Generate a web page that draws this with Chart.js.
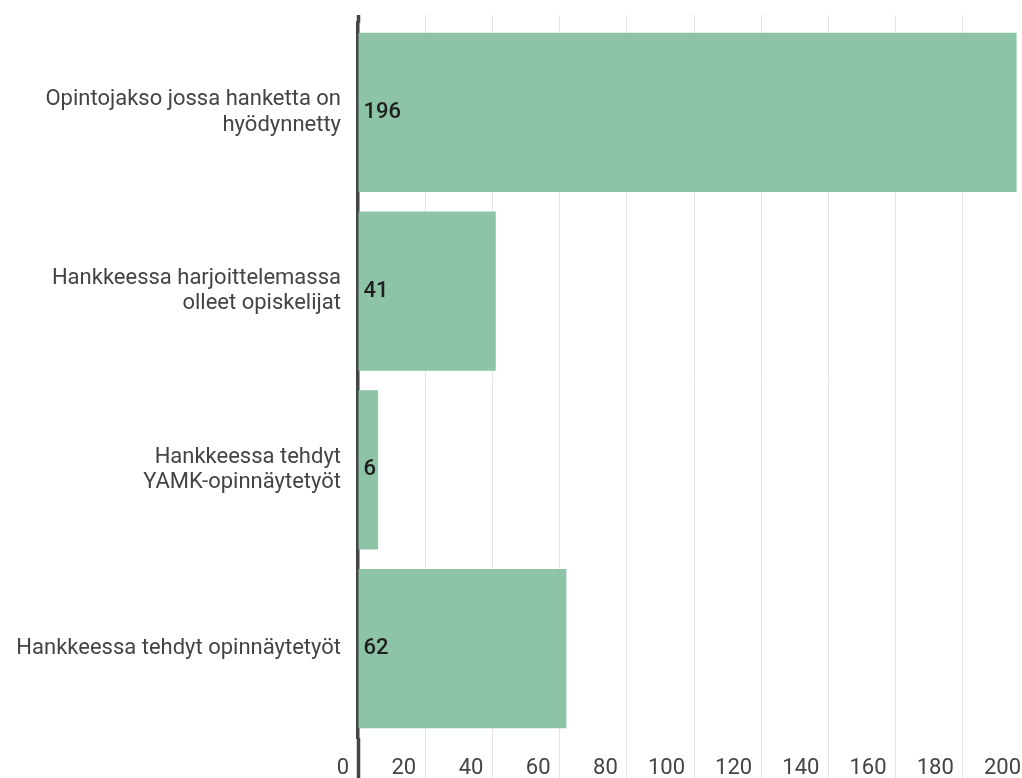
<!DOCTYPE html>
<html>
<head>
<meta charset="utf-8">
<script src="https://cdn.jsdelivr.net/npm/chart.js@4"></script>
<style>
  html, body { margin: 0; padding: 0; overflow: hidden; background: #fff; }
  #wrap { width: 1034px; height: 778px; position: relative; }
</style>
</head>
<body>
<div id="wrap"><canvas id="myChart"></canvas></div>
<script>
const categories = [
    ['Opintojakso jossa hanketta on', 'hyödynnetty'],
    ['Hankkeessa harjoittelemassa', 'olleet opiskelijat'],
    ['Hankkeessa tehdyt', 'YAMK-opinnäytetyöt'],
    'Hankkeessa tehdyt opinnäytetyöt'
];
const values = [196, 41, 6, 62];
const xMin = 0;
const xMax = 200;
const xStep = 20;

const barColor = '#8dc3a6';
const gridColor = '#e4e4e4';
const axisColor = '#444444';

// value text at the start of each bar
const valueLabels = {
    id: 'valueLabels',
    afterDatasetsDraw(chart) {
        const ctx = chart.ctx;
        const meta = chart.getDatasetMeta(0);
        ctx.save();
        ctx.font = '500 22px Roboto';
        ctx.fillStyle = '#1e1e1e';
        ctx.textAlign = 'left';
        ctx.textBaseline = 'middle';
        meta.data.forEach((bar, i) => {
            ctx.fillText(String(values[i]), bar.base + 5, bar.y);
        });
        ctx.restore();
    }
};

const tickColor = (c) => (c.tick && c.tick.value === 0) ? axisColor : gridColor;
const tickWidth = (c) => (c.tick && c.tick.value === 0) ? 3.5 : 1;

const ctx = document.getElementById('myChart').getContext('2d');
const myChart = new Chart(ctx, {
    type: 'bar',
    data: {
        labels: categories,
        datasets: [{
            data: values,
            backgroundColor: barColor,
            borderWidth: 0,
            barPercentage: 0.89,
            categoryPercentage: 1
        }]
    },
    options: {
        indexAxis: 'y',
        responsive: true,
        maintainAspectRatio: false,
        animation: false,
        layout: { padding: { top: 15, right: 4, bottom: 0, left: 0 } },
        plugins: {
            legend: { display: false },
            tooltip: { enabled: false }
        },
        scales: {
            x: {
                type: 'linear',
                position: 'bottom',
                min: xMin,
                max: xMax,
                afterFit: (s) => { s.height = 40; s.paddingLeft = 0; s.paddingRight = 0; },
                grid: {
                    color: gridColor,
                    lineWidth: 1,
                    drawTicks: true,
                    tickLength: 40,
                    tickColor: tickColor,
                    tickWidth: tickWidth
                },
                border: { display: false },
                ticks: {
                    stepSize: xStep,
                    align: 'end',
                    labelOffset: -9,
                    padding: -23,
                    color: '#444',
                    font: { family: 'Roboto', size: 22 }
                }
            },
            x2: {
                type: 'linear',
                axis: 'x',
                position: 'top',
                min: xMin,
                max: xMax,
                afterFit: (s) => { s.height = 8; s.paddingLeft = 0; s.paddingRight = 0; },
                grid: {
                    drawOnChartArea: false,
                    drawTicks: true,
                    tickLength: 8,
                    tickColor: tickColor,
                    tickWidth: tickWidth
                },
                border: { display: false },
                ticks: { display: false, stepSize: xStep }
            },
            y: {
                afterFit: (s) => { s.width = 358; s.paddingTop = 0; s.paddingBottom = 0; },
                grid: { display: false, drawTicks: false },
                border: { display: true, color: axisColor, width: 3.5 },
                ticks: {
                    padding: 17,
                    color: '#444',
                    font: { family: 'Roboto', size: 22, lineHeight: 1.15 }
                }
            }
        }
    },
    plugins: [valueLabels]
});
</script>
</body>
</html>
